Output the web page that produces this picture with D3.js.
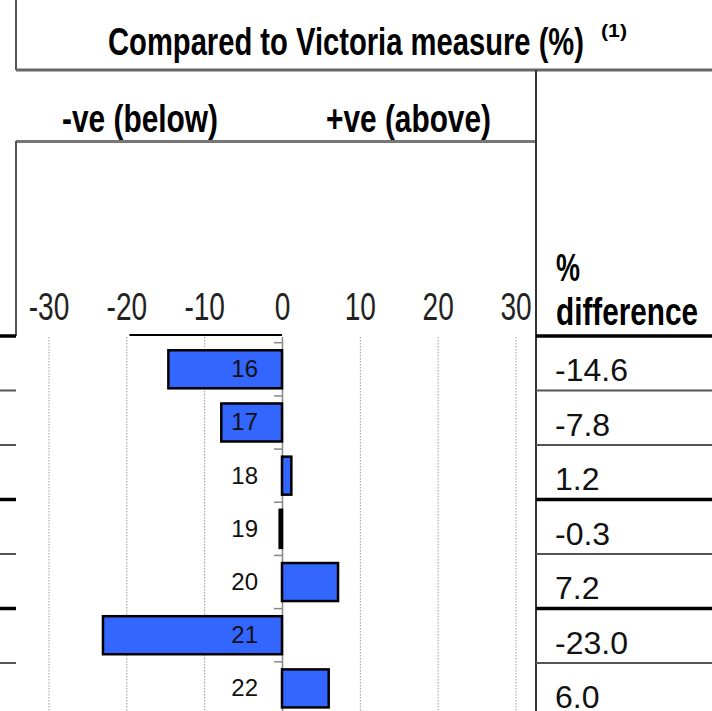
<!DOCTYPE html>
<html>
<head>
<meta charset="utf-8">
<title>Compared to Victoria measure (%)</title>
<script src="https://d3js.org/d3.v7.min.js" charset="utf-8"></script>
<style>
  html, body { margin: 0; padding: 0; background: #fff; }
  svg { display: block; }
  .narrow { font-family: "Liberation Sans Narrow", "Arial Narrow", sans-serif; }
  .plain { font-family: "Liberation Sans", Arial, sans-serif; }
</style>
</head>
<body>
<div id="chart"></div>
<script>
// chart data
const categories = ["16", "17", "18", "19", "20", "21", "22"];
const values = [-14.6, -7.8, 1.2, -0.3, 7.2, -23.0, 6.0];
const xTicks = [-30, -20, -10, 0, 10, 20, 30];

const width = 712, height = 711;
const barColor = "#3366ff";
const thickRules = [0, 3, 5];   // table rows whose top rule is heavy

const svg = d3.select("#chart").append("svg")
  .attr("width", width)
  .attr("height", height);

// scales
const x = d3.scaleLinear().domain([-30, 30]).range([48.5, 515.5]);
const y = d3.scaleBand().domain(categories)
  .range([342.7, 715]).paddingInner(0.285).paddingOuter(0.1425);
const rows = d3.scaleBand().domain(categories).range([336, 717.5]);

// header frame
const frame = svg.append("g").attr("fill", "none");
frame.append("line").attr("x1", 16).attr("x2", 16).attr("y1", 0).attr("y2", 70)
  .attr("stroke", "#555").attr("stroke-width", 2);
frame.append("line").attr("x1", 16).attr("x2", width).attr("y1", 70).attr("y2", 70)
  .attr("stroke", "#666").attr("stroke-width", 3);
frame.append("line").attr("x1", 16).attr("x2", 536).attr("y1", 141.5).attr("y2", 141.5)
  .attr("stroke", "#777").attr("stroke-width", 3);
frame.append("line").attr("x1", 16).attr("x2", 16).attr("y1", 141).attr("y2", 336)
  .attr("stroke", "#555").attr("stroke-width", 2);
frame.append("line").attr("x1", 536).attr("x2", 536).attr("y1", 70).attr("y2", height)
  .attr("stroke", "#333").attr("stroke-width", 2);

// header texts
svg.append("text").attr("class", "narrow").attr("font-weight", "bold")
  .attr("x", 108).attr("y", 55).attr("font-size", 38)
  .attr("textLength", 476).attr("lengthAdjust", "spacingAndGlyphs")
  .text("Compared to Victoria measure (%)");
svg.append("text").attr("class", "narrow").attr("font-weight", "bold")
  .attr("x", 601).attr("y", 37).attr("font-size", 18)
  .attr("textLength", 26).attr("lengthAdjust", "spacingAndGlyphs")
  .text("(1)");
svg.append("text").attr("class", "narrow").attr("font-weight", "bold")
  .attr("x", 62).attr("y", 132).attr("font-size", 38)
  .attr("textLength", 156).attr("lengthAdjust", "spacingAndGlyphs")
  .text("-ve (below)");
svg.append("text").attr("class", "narrow").attr("font-weight", "bold")
  .attr("x", 326).attr("y", 132).attr("font-size", 38)
  .attr("textLength", 165).attr("lengthAdjust", "spacingAndGlyphs")
  .text("+ve (above)");
svg.append("text").attr("class", "narrow").attr("font-weight", "bold")
  .attr("x", 556).attr("y", 281).attr("font-size", 38)
  .attr("textLength", 24).attr("lengthAdjust", "spacingAndGlyphs")
  .text("%");
svg.append("text").attr("class", "narrow").attr("font-weight", "bold")
  .attr("x", 556).attr("y", 325).attr("font-size", 38)
  .attr("textLength", 142).attr("lengthAdjust", "spacingAndGlyphs")
  .text("difference");

// x axis on top, with gridlines running down
const xAxis = d3.axisTop(x)
  .tickValues(xTicks)
  .tickFormat(d => String(d))
  .tickSizeInner(-376)
  .tickSizeOuter(0)
  .tickPadding(15);
const gx = svg.append("g").attr("transform", "translate(0,335)").call(xAxis);
gx.select(".domain").remove();
gx.selectAll(".tick line")
  .attr("y1", 2)
  .attr("stroke", d => d === 0 ? "#888" : "#999")
  .attr("stroke-width", d => d === 0 ? 1.5 : 1)
  .attr("stroke-dasharray", d => d === 0 ? null : "1.5,1.5");
gx.selectAll(".tick text")
  .attr("class", "narrow")
  .attr("font-size", 39)
  .attr("fill", "#222")
  .attr("transform", "scale(0.72,1)");

// short black rule along the top of the plot
svg.append("line")
  .attr("x1", x(-19.6)).attr("x2", x(0))
  .attr("y1", 335).attr("y2", 335)
  .attr("stroke", "#000").attr("stroke-width", 2);

// ticks on the zero line at row boundaries
const gap = (y.step() - y.bandwidth()) / 2;
svg.append("g").selectAll("line").data(categories).join("line")
  .attr("x1", x(0) - 8).attr("x2", x(0))
  .attr("y1", c => y(c) - gap).attr("y2", c => y(c) - gap)
  .attr("stroke", "#888").attr("stroke-width", 1.5);

// bars
svg.append("g").selectAll("rect").data(categories).join("rect")
  .attr("x", (c, i) => x(Math.min(0, values[i])))
  .attr("y", c => y(c))
  .attr("width", (c, i) => Math.abs(x(values[i]) - x(0)))
  .attr("height", y.bandwidth())
  .attr("fill", barColor)
  .attr("stroke", "#000")
  .attr("stroke-width", 2.5);

// category labels
svg.append("g").selectAll("text").data(categories).join("text")
  .attr("class", "plain")
  .attr("x", x(0) - 24)
  .attr("y", c => y(c) + y.bandwidth() / 2 + 8)
  .attr("text-anchor", "end")
  .attr("font-size", 24)
  .attr("fill", "#111")
  .text(c => c);

// table rules (left stub and right column)
const rules = svg.append("g");
[[0, 16], [536, width]].forEach(([a, b]) => {
  rules.selectAll(null).data(categories).join("line")
    .attr("x1", a).attr("x2", b)
    .attr("y1", c => rows(c)).attr("y2", c => rows(c))
    .attr("stroke", (c, i) => thickRules.includes(i) ? "#000" : "#555")
    .attr("stroke-width", (c, i) => thickRules.includes(i) ? 3.5 : 2);
});

// % difference values
svg.append("g").selectAll("text").data(categories).join("text")
  .attr("class", "plain")
  .attr("x", 555)
  .attr("y", c => rows(c) + 45)
  .attr("font-size", 32)
  .attr("fill", "#111")
  .text((c, i) => values[i].toFixed(1));
</script>
</body>
</html>
